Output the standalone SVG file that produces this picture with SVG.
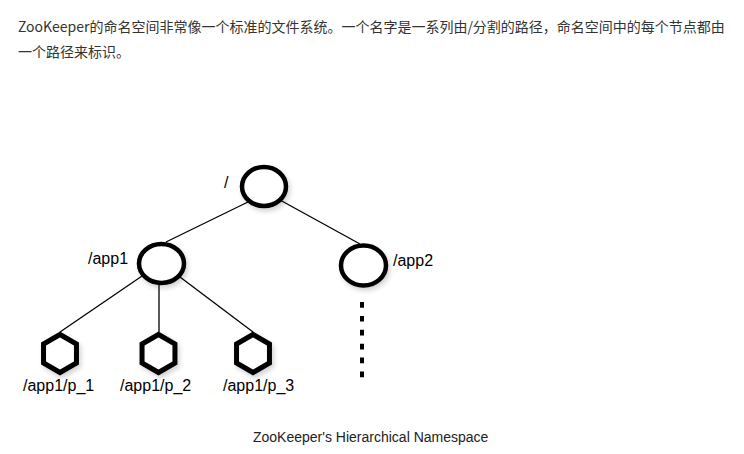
<svg xmlns="http://www.w3.org/2000/svg" width="744" height="454" viewBox="0 0 744 454">
  <defs>
    <filter id="sh" x="-30%" y="-30%" width="170%" height="170%">
      <feGaussianBlur in="SourceAlpha" stdDeviation="2.5"/>
      <feOffset dx="2" dy="3" result="b"/>
      <feComponentTransfer><feFuncA type="linear" slope="0.18"/></feComponentTransfer>
      <feMerge><feMergeNode/><feMergeNode in="SourceGraphic"/></feMerge>
    </filter>
  </defs>
  <style>
    .hdr { font-family: "Noto Sans CJK SC", "Liberation Sans", sans-serif; font-size: 14px; fill: #333; }
    .lbl { font-family: "Liberation Sans", Arial, sans-serif; font-size: 16px; fill: #000; }
    .cap { font-family: "Liberation Sans", Arial, sans-serif; font-size: 14px; fill: #222; }
    .circ { fill: #fff; stroke: #000; stroke-width: 4.5; }
    .hex { fill: #fff; stroke: #000; stroke-width: 5; stroke-linejoin: miter; }
    .edge { stroke: #000; stroke-width: 1.3; fill: none; }
    .dots { stroke: #000; stroke-width: 4; stroke-dasharray: 5.7 8.2; fill: none; }
  </style>
  <rect width="744" height="454" fill="#fff"/>

  <g id="header">
    <text class="hdr" x="18" y="32">ZooKeeper的命名空间非常像一个标准的文件系统。一个名字是一系列由/分割的路径，命名空间中的每个节点都由</text>
    <text class="hdr" x="18" y="57">一个路径来标识。</text>
  </g>

  <g id="connectors">
    <line class="edge" x1="250" y1="201" x2="166" y2="242"/>
    <line class="edge" x1="280" y1="200" x2="360" y2="244"/>
    <line class="edge" x1="145" y1="274" x2="60" y2="332"/>
    <line class="edge" x1="159" y1="280" x2="159" y2="332"/>
    <line class="edge" x1="176" y1="274" x2="253" y2="332"/>
    <line class="dots" x1="362" y1="302" x2="362" y2="378"/>
  </g>

  <g id="root">
    <ellipse class="circ" cx="264" cy="186.5" rx="22" ry="19.5" filter="url(#sh)"/>
    <text class="lbl" x="224" y="188">/</text>
  </g>
  <g id="app1">
    <ellipse class="circ" cx="161.5" cy="263.5" rx="22.5" ry="19.5" filter="url(#sh)"/>
    <text class="lbl" x="88" y="264">/app1</text>
  </g>
  <g id="app2">
    <ellipse class="circ" cx="363.5" cy="265.5" rx="22.5" ry="20" filter="url(#sh)"/>
    <text class="lbl" x="393" y="266">/app2</text>
  </g>
  <g id="p1">
    <polygon class="hex" transform="translate(60,353.5)" points="0,-19 16.45,-9.5 16.45,9.5 0,19 -16.45,9.5 -16.45,-9.5" filter="url(#sh)"/>
    <text class="lbl" x="23" y="391">/app1/p_1</text>
  </g>
  <g id="p2">
    <polygon class="hex" transform="translate(158.5,353.5)" points="0,-19 16.45,-9.5 16.45,9.5 0,19 -16.45,9.5 -16.45,-9.5" filter="url(#sh)"/>
    <text class="lbl" x="120" y="391">/app1/p_2</text>
  </g>
  <g id="p3">
    <polygon class="hex" transform="translate(253,353.5)" points="0,-19 16.45,-9.5 16.45,9.5 0,19 -16.45,9.5 -16.45,-9.5" filter="url(#sh)"/>
    <text class="lbl" x="223" y="391">/app1/p_3</text>
  </g>

  <g id="caption">
    <text class="cap" x="253" y="442">ZooKeeper's Hierarchical Namespace</text>
  </g>
</svg>
